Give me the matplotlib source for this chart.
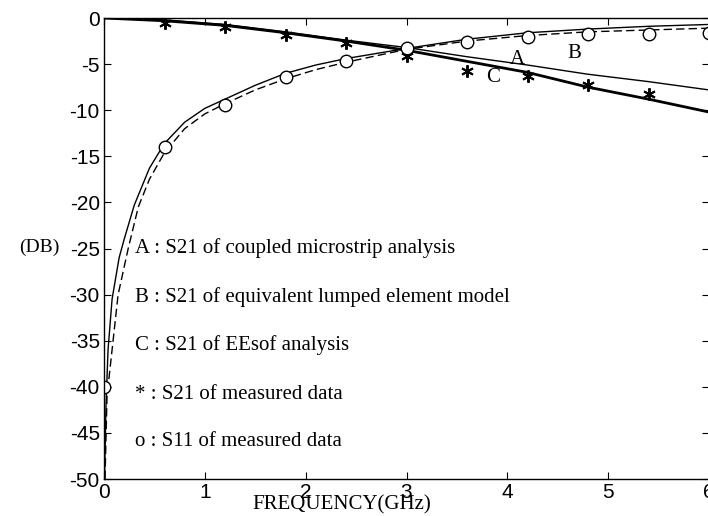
import matplotlib
matplotlib.use("Agg")
import matplotlib.pyplot as plt

# ---- data ----
freq_s21 = [0.0, 0.6, 1.2, 1.8, 2.4, 3.0, 3.6, 4.2, 4.8, 5.4, 6.0]
s21_A = [0.0, -0.2, -0.7, -1.5, -2.4, -3.2, -4.2, -5.1, -6.1, -6.9, -7.8]
s21_C = [0.0, -0.3, -0.8, -1.6, -2.5, -3.5, -4.7, -5.9, -7.5, -8.8, -10.2]

freq_s11_solid = [0.005, 0.02, 0.04, 0.08, 0.15, 0.2, 0.3, 0.45, 0.6, 0.8, 1.0,
                  1.2, 1.5, 1.8, 2.1, 2.4, 3.0, 3.6, 4.2, 4.8, 5.4, 6.0]
s11_solid = [-50, -42, -36, -30.5, -26, -24, -20.3, -16.3, -13.6, -11.3, -9.8,
             -8.8, -7.3, -6.0, -5.1, -4.4, -3.3, -2.3, -1.6, -1.2, -0.9, -0.7]

freq_s11_dash = [0.01, 0.03, 0.09, 0.14, 0.24, 0.34, 0.45, 0.6, 0.8, 1.0,
                 1.2, 1.5, 1.8, 2.1, 2.4, 3.0, 3.6, 4.2, 4.8, 5.4, 6.0]
s11_dash = [-50, -41, -35, -30, -25, -20.5, -17.5, -14.6, -12.0, -10.4,
            -9.3, -7.8, -6.6, -5.6, -4.8, -3.4, -2.5, -1.9, -1.5, -1.3, -1.1]

meas_freq_s21 = [0.6, 1.2, 1.8, 2.4, 3.0, 3.6, 4.2, 4.8, 5.4]
meas_s21 = [-0.5, -1.0, -1.8, -2.7, -4.1, -5.7, -6.3, -7.3, -8.2]

meas_freq_s11 = [0.0, 0.6, 1.2, 1.8, 2.4, 3.0, 3.6, 4.2, 4.8, 5.4, 6.0]
meas_s11 = [-40.0, -14.0, -9.4, -6.4, -4.7, -3.3, -2.6, -2.1, -1.7, -1.7, -1.6]

xticks = [0, 1, 2, 3, 4, 5, 6]
yticks = [0, -5, -10, -15, -20, -25, -30, -35, -40, -45, -50]

legend_lines = ["A : S21 of coupled microstrip analysis",
                "B : S21 of equivalent lumped element model",
                "C : S21 of EEsof analysis",
                "* : S21 of measured data",
                "o : S11 of measured data"]
legend_y = [-25.0, -30.3, -35.5, -40.8, -45.9]

# ---- figure ----
fig = plt.figure(figsize=(7.08, 5.16), dpi=100)
ax = fig.add_axes([104 / 708, 0.0717, 605 / 708, 0.8934])

ax.plot(freq_s21, s21_A, color="black", lw=1.0)
ax.plot(freq_s21, s21_C, color="black", lw=2.0)
ax.plot(freq_s11_solid, s11_solid, color="black", lw=1.0)
ax.plot(freq_s11_dash, s11_dash, color="black", lw=1.0, ls=(0, (6, 3)))

ax.plot(meas_freq_s21, meas_s21, ls="none", marker=(6, 2, 0), ms=9,
        mew=1.4, color="black")
ax.plot(meas_freq_s11, meas_s11, ls="none", marker="o", ms=9,
        mfc="white", mec="black", mew=1.0)

ax.set_xlim(0, 6)
ax.set_ylim(-50, 0)
ax.set_xticks(xticks)
ax.set_yticks(yticks)
ax.set_xticklabels([str(t) for t in xticks])
ax.set_yticklabels([str(t) for t in yticks])
ax.tick_params(direction="in", length=5, top=True, right=True,
               labelsize=15, pad=3)
for lab in ax.get_xticklabels() + ax.get_yticklabels():
    lab.set_fontfamily("Liberation Sans")
for sp in ax.spines.values():
    sp.set_linewidth(1.0)

serif = "Liberation Serif"
ax.text(4.1, -4.45, "A", fontsize=15, family=serif, ha="center", va="center")
ax.text(4.66, -3.9, "B", fontsize=15, family=serif, ha="center", va="center")
ax.text(3.86, -6.5, "C", fontsize=15, family=serif, ha="center", va="center")

for s, y in zip(legend_lines, legend_y):
    ax.text(0.31, y, s, fontsize=15, family=serif, ha="left", va="center")

fig.text(39 / 708, 1 - 247 / 516, "(DB)", fontsize=14, family=serif,
         ha="center", va="center")
fig.text(342 / 708, 1 - 505 / 516, "FREQUENCY(GHz)", fontsize=15,
         family=serif, ha="center", va="center")

fig.savefig("out.png", dpi=100)
